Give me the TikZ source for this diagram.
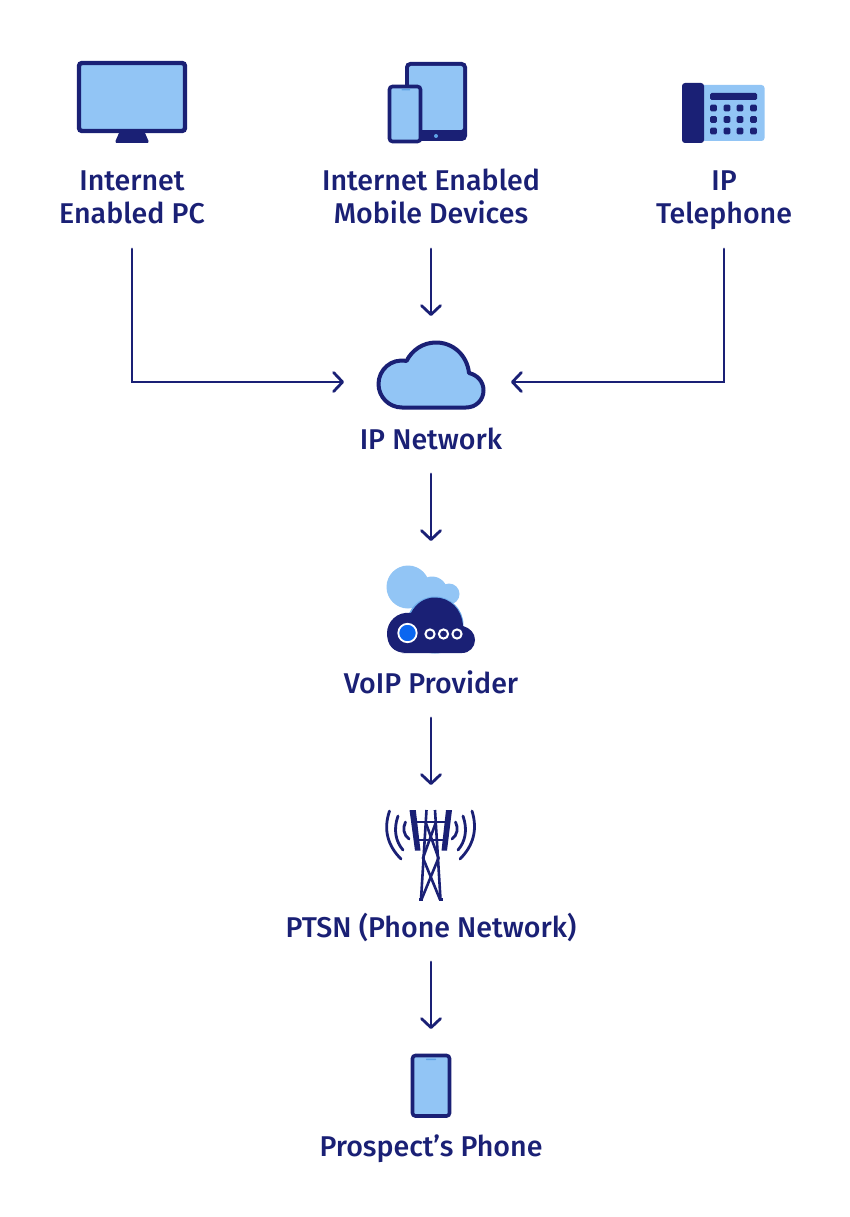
\documentclass[tikz,border=0pt]{standalone}
\usepackage{fontspec}
\setmainfont{Fira Sans Medium}
\usetikzlibrary{arrows.meta}
\definecolor{navy}{HTML}{1A2075}
\definecolor{sky}{HTML}{92C5F5}
\definecolor{midblue}{HTML}{5FA3E6}
\definecolor{vivid}{HTML}{0A66F0}
\tikzset{
  lab/.style={text=navy,font=\fontsize{28.6}{33}\selectfont,align=center,inner sep=0pt,anchor=south},
  flow/.style={draw=navy,line width=2.8pt,line cap=round,line join=miter,-{Straight Barb[length=9pt,width=19pt,line width=2.8pt,round]}},
  frame/.style={draw=navy,line width=4.4pt,fill=sky,rounded corners=3pt},
  thin frame/.style={draw=navy,line width=3.6pt,fill=sky,rounded corners=3pt},
  darkfill/.style={fill=navy,draw=none},
  lightfill/.style={fill=sky,draw=none},
  wave/.style={draw=navy,line width=2.8pt,line cap=round},
  mast/.style={draw=navy,line width=2.6pt},
}
\begin{document}
\begin{tikzpicture}[x=1pt,y=-1pt]
\useasboundingbox (0,0) rectangle (850,1217);
\fill[white] (0,0) rectangle (850,1217);

% monitor
\path[darkfill] (119,133) -- (145,133) -- (148.5,141) -- (148,143) -- (116,143) -- (115.5,141) -- cycle;
\path[frame] (79,63) rectangle (185,131);
% tablet
\path[fill=navy,rounded corners=5pt] (405,62) rectangle (467,141);
\path[lightfill,rounded corners=2pt] (409,66) rectangle (463,130);
\path[fill=midblue] (436,136) circle (2);
% small phone
\path[thin frame] (389.5,86.5) rectangle (420.5,141.5);
\path[fill=midblue,rounded corners=0.5pt] (401.5,89) rectangle (410,90.5);
% desk telephone
\path[lightfill,rounded corners=3pt] (695,85) rectangle (764.5,141);
\path[darkfill,rounded corners=3pt] (682,83) rectangle (704,143);
\path[darkfill,rounded corners=1.5pt] (710,93) rectangle (757,100);
\foreach \kx in {713.5,727,740,753.5}
  \foreach \ky in {108,119.5,131}
    \path[darkfill,rounded corners=1.5pt] (\kx-3.4,\ky-3.4) rectangle (\kx+3.4,\ky+3.4);
% labels row 1
\node[lab,text depth=25.5pt] (pc) at (132,249) {Internet\\Enabled PC};
\node[lab,text depth=25.5pt] (mobile) at (431,249) {Internet Enabled\\Mobile Devices};
\node[lab,text depth=25.5pt] (ipphone) at (724,249) {IP\\Telephone};

% IP network cloud
\path[draw=navy,line width=4pt,fill=sky,line join=round]
  (402,407.5) -- (466,407.5)
  .. controls (476,407.5) and (483.5,400) .. (483.5,390.5)
  .. controls (483.5,381) and (477,375) .. (469,373)
  .. controls (467,355) and (453,342.5) .. (436,342.5)
  .. controls (423,342.5) and (412,350) .. (406.5,361)
  .. controls (391,358) and (378.5,370) .. (378.5,384)
  .. controls (378.5,397) and (389,407.5) .. (402,407.5) -- cycle;
\coordinate (netN) at (431,316);
\coordinate (netW) at (344,382);
\coordinate (netE) at (511,382);
\node[lab,text depth=24pt] (ipnet) at (431,474) {IP Network};

% VoIP provider clouds
\path[lightfill] (408,587) circle (21.5);
\path[lightfill] (432,592) circle (15.5);
\path[lightfill] (449,594) circle (10.5);
\path[lightfill] (410,590) rectangle (450,604);
\path[fill=midblue!70!sky] (435,625) circle (28.5);
\path[fill=navy]
  (402,653) -- (462,653)
  .. controls (469.5,653) and (475,647) .. (475,640)
  .. controls (475,633) and (470,628) .. (463,626)
  .. controls (462,609) and (450,597.5) .. (435,597.5)
  .. controls (425,597.5) and (416,603) .. (411,613)
  .. controls (397,611) and (387,622) .. (387,633)
  .. controls (387,645) and (393,653) .. (407,653) -- cycle;
\path[fill=vivid,draw=white,line width=1.8pt] (407.5,633) circle (9.2);
\foreach \dx in {430,443.5,457}
  \path[fill=navy,draw=white,line width=2pt] (\dx,634) circle (4.6);
\coordinate (voipN) at (431,541);
\node[lab,text depth=24pt] (voip) at (431,718) {VoIP Provider};

% tower
\coordinate (towerN) at (431,785);
\path[darkfill] (409.5,810) -- (415.8,810) -- (420.5,850.7) -- (415,850.7) -- cycle;
\path[darkfill] (446,810) -- (452,810) -- (447,850.7) -- (441.5,850.7) -- cycle;
\draw[mast] (412,822) -- (449,822);
\draw[mast] (416,840) -- (446,840);
\draw[mast] (426.5,810) -- (421,899.5);
\draw[mast] (435,810) -- (440.5,899.5);
\draw[mast,line width=3pt] (419,899) -- (423,899);
\draw[mast,line width=3pt] (438.5,899) -- (442.5,899);
\draw[mast] (425.5,822) -- (438.5,858) -- (421.5,899.5);
\draw[mast] (436,822) -- (423,858) -- (440,899.5);
\draw[wave] (389.5,811) .. controls (383,830) and (388,846) .. (401,859);
\draw[wave] (398,816) .. controls (393,830) and (396,842) .. (403,850);
\draw[wave] (405.5,822) .. controls (402.5,828) and (403.5,835) .. (409,839);
\draw[wave] (472,811) .. controls (478,830) and (473,846) .. (460,859);
\draw[wave] (463,816) .. controls (468,830) and (465,842) .. (458,850);
\draw[wave] (455.5,822) .. controls (458.5,828) and (457.5,835) .. (452,839);
\node[lab,text depth=24pt] (ptsn) at (431,962) {PTSN (Phone Network)};

% prospect phone
\coordinate (phoneN) at (431,1029);
\path[thin frame] (412.5,1055.5) rectangle (449.5,1116);
\path[fill=midblue,rounded corners=0.5pt] (426,1058.5) rectangle (436,1060);
\node[lab,text depth=24pt] (prospect) at (431,1181) {Prospect’s Phone};

% connectors
\draw[flow] (pc.south) |- (netW);
\draw[flow] (ipphone.south) |- (netE);
\draw[flow] (mobile.south) -- (netN);
\draw[flow] (ipnet.south) -- (voipN);
\draw[flow] (voip.south) -- (towerN);
\draw[flow] (ptsn.south) -- (phoneN);
\end{tikzpicture}
\end{document}
